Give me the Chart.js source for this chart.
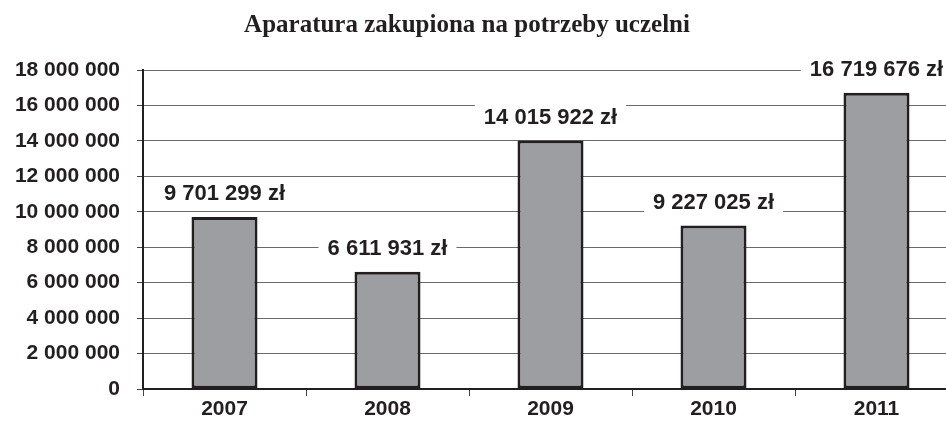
<!DOCTYPE html>
<html>
<head>
<meta charset="utf-8">
<script src="https://cdn.jsdelivr.net/npm/chart.js@4"></script>
<style>
  html, body { margin: 0; padding: 0; background: #fff; overflow: hidden; }
  #wrap { width: 960px; height: 426px; }
</style>
</head>
<body>
<div id="wrap"><canvas id="chart" width="960" height="426"></canvas></div>
<script>
// data
const YEARS = ['2007', '2008', '2009', '2010', '2011'];
const AMOUNTS = [9701299, 6611931, 14015922, 9227025, 16719676];
const Y_MAX = 18000000;
const Y_STEP = 2000000;
const TITLE = 'Aparatura zakupiona na potrzeby uczelni';

const INK = '#231f20';
const BAR_FILL = '#9c9ea1';
const TITLE_FONT = 'bold 25px "Liberation Serif", "Times New Roman", serif';

const fmt = v => Math.round(v).toString().replace(/\B(?=(\d{3})+(?!\d))/g, ' ');

// value labels on a white box above each bar, title drawn a bit left of canvas centre
const valueLabels = {
  id: 'valueLabels',
  afterDatasetsDraw(chart) {
    const ctx = chart.ctx;
    const meta = chart.getDatasetMeta(0);
    ctx.save();
    ctx.font = 'bold 22px "Liberation Sans", Arial, sans-serif';
    ctx.textAlign = 'center';
    ctx.textBaseline = 'middle';
    meta.data.forEach((bar, i) => {
      const text = fmt(AMOUNTS[i]) + ' zł';
      const w = ctx.measureText(text).width;
      const cy = bar.y - 24;
      ctx.fillStyle = '#fff';
      ctx.fillRect(bar.x - w / 2 - 9, cy - 13, w + 18, 26);
      ctx.fillStyle = INK;
      ctx.fillText(text, bar.x, cy + 1);
    });

    ctx.font = TITLE_FONT;
    ctx.fillStyle = INK;
    ctx.fillText(TITLE, 467, 26);
    ctx.restore();
  }
};

new Chart(document.getElementById('chart'), {
  type: 'bar',
  data: {
    labels: YEARS,
    datasets: [{
      data: AMOUNTS,
      backgroundColor: BAR_FILL,
      borderColor: INK,
      borderWidth: 3,
      borderSkipped: false,
      categoryPercentage: 1,
      barPercentage: 0.405
    }]
  },
  options: {
    responsive: false,
    animation: false,
    layout: { padding: { left: 10, right: 2, top: 8, bottom: 0 } },
    plugins: {
      legend: { display: false },
      tooltip: { enabled: false },
      title: {
        // keeps the space; the text itself is painted by valueLabels
        display: true,
        text: TITLE,
        color: 'rgba(0,0,0,0)',
        font: { family: '"Liberation Serif", "Times New Roman", serif', size: 25, weight: 'bold' },
        padding: { top: 3, bottom: 29 }
      }
    },
    scales: {
      x: {
        grid: { drawOnChartArea: false, drawTicks: true, tickLength: 7, tickColor: '#444', offset: true },
        border: { display: true, color: INK, width: 2 },
        ticks: {
          color: INK,
          padding: 1,
          font: { family: '"Liberation Sans", Arial, sans-serif', size: 21, weight: 'bold' }
        },
        afterFit(scale) { scale.height = 37; }
      },
      y: {
        min: 0,
        max: Y_MAX,
        grid: { color: '#6a6a6a', lineWidth: 1, tickLength: 6, tickColor: '#444' },
        border: { display: true, color: INK, width: 2 },
        ticks: {
          stepSize: Y_STEP,
          color: INK,
          padding: 17,
          font: { family: '"Liberation Sans", Arial, sans-serif', size: 21, weight: 'bold' },
          callback: v => fmt(v)
        },
        afterFit(scale) { scale.width = 133; }
      }
    }
  },
  plugins: [valueLabels]
});
</script>
</body>
</html>
